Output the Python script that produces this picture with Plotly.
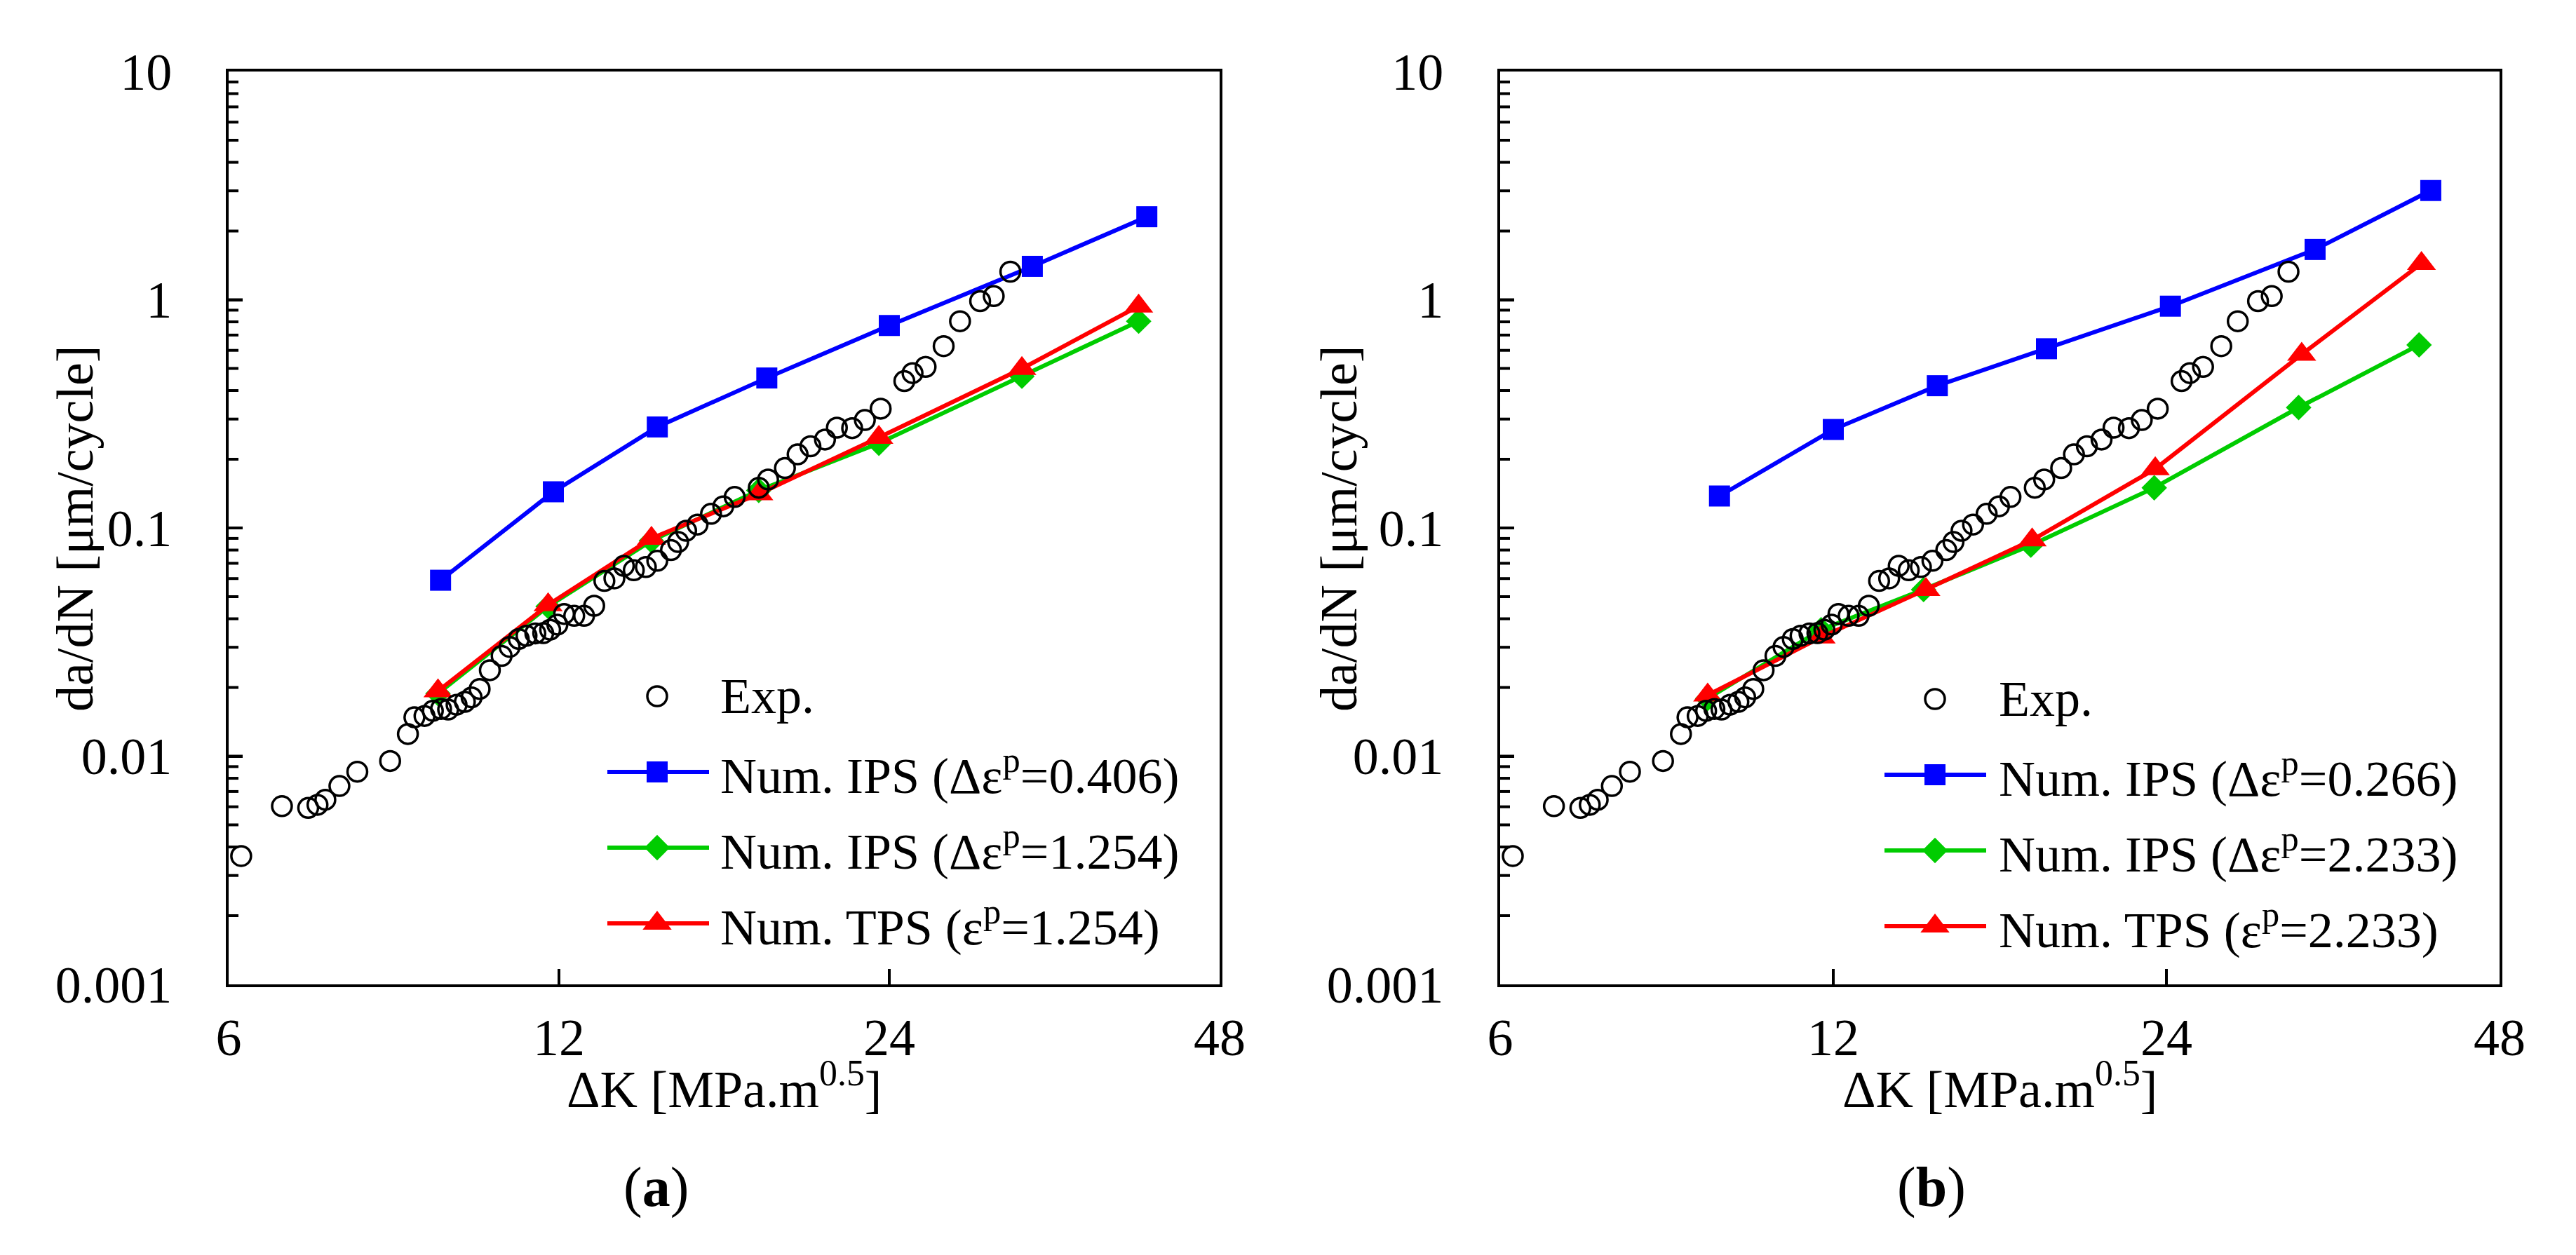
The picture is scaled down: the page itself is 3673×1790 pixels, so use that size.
import plotly.graph_objects as go
import math

# ---------------- data ----------------
K_exp = [6.16, 6.71, 7.09, 7.23, 7.35, 7.57, 7.86, 8.42, 8.74, 8.86, 9.05, 9.21, 9.37, 9.51,
         9.68, 9.85, 9.99, 10.16, 10.38, 10.64, 10.82, 11.03, 11.21, 11.42, 11.61, 11.78, 11.96,
         12.13, 12.39, 12.65, 12.92, 13.2, 13.48, 13.75, 14.04, 14.4, 14.75, 15.18, 15.41, 15.67,
         16.05, 16.51, 16.94, 17.35, 18.25, 18.61, 19.28, 19.8, 20.34, 20.97, 21.5, 22.2, 22.8,
         23.57, 24.77, 25.2, 25.9, 26.9, 27.84, 29.04, 29.88, 30.94]
da_exp = [0.00365, 0.00604, 0.00593, 0.00612, 0.00644, 0.0074, 0.00855, 0.00952, 0.0125, 0.0148,
          0.015, 0.0158, 0.0161, 0.016, 0.0168, 0.0173, 0.0181, 0.0197, 0.0238, 0.0275, 0.0301,
          0.0326, 0.0337, 0.0345, 0.0346, 0.0358, 0.0377, 0.042, 0.0412, 0.0412, 0.0456, 0.0586,
          0.0601, 0.0682, 0.0653, 0.0674, 0.0718, 0.080, 0.0868, 0.0972, 0.1035, 0.1153, 0.1244,
          0.1367, 0.150, 0.163, 0.183, 0.210, 0.228, 0.244, 0.275, 0.2737, 0.297, 0.333, 0.44,
          0.477, 0.508, 0.626, 0.805, 0.986, 1.037, 1.327]

# (a)
K_a_ips1 = [9.36, 11.86, 14.75, 18.56, 24.0, 32.4, 41.2]
da_a_ips1 = [0.059, 0.144, 0.277, 0.454, 0.771, 1.40, 2.31]
K_a_ips2 = [9.31, 11.73, 14.57, 18.25, 23.48, 31.7, 40.5]
da_a_ips2 = [0.0188, 0.0453, 0.0879, 0.146, 0.235, 0.462, 0.805]
K_a_tps = [9.31, 11.73, 14.57, 18.25, 23.48, 31.7, 40.5]
da_a_tps = [0.0193, 0.046, 0.090, 0.141, 0.249, 0.499, 0.937]

# (b)
K_b_ips1 = [9.47, 12.0, 14.9, 18.7, 24.2, 32.7, 41.6]
da_b_ips1 = [0.138, 0.270, 0.420, 0.610, 0.937, 1.66, 3.01]
K_b_ips2 = [9.24, 11.7, 14.48, 18.1, 23.4, 31.6, 40.6]
da_b_ips2 = [0.0179, 0.0358, 0.0537, 0.0840, 0.150, 0.337, 0.634]
K_b_tps = [9.24, 11.7, 14.55, 18.15, 23.45, 31.8, 40.8]
da_b_tps = [0.0185, 0.0332, 0.0537, 0.0885, 0.1816, 0.576, 1.44]

x_ticks = [6, 12, 24, 48]
y_ticks = [0.001, 0.01, 0.1, 1, 10]
y_ticktext = ["0.001", "0.01", "0.1", "1", "10"]
# log-axis minor tick positions (2..9 within each decade)
y_minor_ticks = [m * 10.0 ** e for e in range(-3, 1) for m in range(2, 10)]

labels_a = ["Exp.", "Num. IPS (Δε<sup>p</sup>=0.406)", "Num. IPS (Δε<sup>p</sup>=1.254)",
            "Num. TPS (ε<sup>p</sup>=1.254)"]
labels_b = ["Exp.", "Num. IPS (Δε<sup>p</sup>=0.266)", "Num. IPS (Δε<sup>p</sup>=2.233)",
            "Num. TPS (ε<sup>p</sup>=2.233)"]

# ---------------- layout constants ----------------
W, H = 3673, 1790
FONT = "Liberation Serif"
BLUE, GREEN, RED = "#0000FF", "#00CC00", "#FF0000"
TOP, BOTTOM = 94, 1396
PANELS = {"a": (318, 1731), "b": (2131, 3556)}
X_RANGE = [math.log10(6), math.log10(48)]
Y_RANGE = [-3, 1]

def px_x(v):
    return v / W

def px_y(v):
    return 1 - v / H

# pixel -> axis value helpers (used only to place the legend keys)
def key_K(px, panel):
    left, right = PANELS[panel]
    return 6 * 2 ** (3 * (px - left) / (right - left))

def key_da(py):
    return 10 ** (1 - 4 * (py - TOP) / (BOTTOM - TOP))

def xfrac(v):
    return (math.log10(v) - X_RANGE[0]) / (X_RANGE[1] - X_RANGE[0])

def yfrac(v):
    return (math.log10(v) - Y_RANGE[0]) / (Y_RANGE[1] - Y_RANGE[0])

dom_y = [px_y(BOTTOM), px_y(TOP)]
dom_xa = [px_x(PANELS["a"][0]), px_x(PANELS["a"][1])]
dom_xb = [px_x(PANELS["b"][0]), px_x(PANELS["b"][1])]

fig = go.Figure()

styles = [
    dict(mode="markers", marker=dict(symbol="circle-open", size=28, color="black", line=dict(width=3.5, color="black"))),
    dict(mode="lines+markers", line=dict(color=BLUE, width=6), marker=dict(symbol="square", size=30, color=BLUE)),
    dict(mode="lines+markers", line=dict(color=GREEN, width=6), marker=dict(symbol="diamond", size=28, color=GREEN)),
    dict(mode="lines+markers", line=dict(color=RED, width=6), marker=dict(symbol="triangle-up", size=36, color=RED)),
]

def add_panel(xa, ya, series):
    # series order: exp, ips1, ips2, tps  (exp drawn on top)
    for idx in [2, 3, 1, 0]:
        xs, ys = series[idx]
        fig.add_trace(go.Scatter(x=xs, y=ys, xaxis=xa, yaxis=ya, showlegend=False,
                                 cliponaxis=False, **styles[idx]))

add_panel("x", "y", [(K_exp, da_exp), (K_a_ips1, da_a_ips1), (K_a_ips2, da_a_ips2), (K_a_tps, da_a_tps)])
add_panel("x2", "y2", [(K_exp, da_exp), (K_b_ips1, da_b_ips1), (K_b_ips2, da_b_ips2), (K_b_tps, da_b_tps)])

# ---------------- manual legends (keys drawn in each panel) ----------------
legend_cfg = [
    dict(panel="a", xa="x", ya="y", labels=labels_a, x0=858, xm=929, x1=1003, xt=1017,
         rows=[985, 1093, 1201, 1309]),
    dict(panel="b", xa="x2", ya="y2", labels=labels_b, x0=2679, xm=2751, x1=2824, xt=2840,
         rows=[989, 1097, 1205, 1313]),
]
annotations = []
for cfg in legend_cfg:
    p = cfg["panel"]
    for i, lab in enumerate(cfg["labels"]):
        row = cfg["rows"][i]
        st = styles[i]
        if i > 0:
            fig.add_trace(go.Scatter(x=[key_K(cfg["x0"], p), key_K(cfg["x1"], p)],
                                     y=[key_da(row), key_da(row)], xaxis=cfg["xa"], yaxis=cfg["ya"],
                                     mode="lines", line=st["line"], showlegend=False, cliponaxis=False,
                                     hoverinfo="skip"))
        fig.add_trace(go.Scatter(x=[key_K(cfg["xm"], p)], y=[key_da(row)], xaxis=cfg["xa"], yaxis=cfg["ya"],
                                 mode="markers", marker=st["marker"], showlegend=False, cliponaxis=False,
                                 hoverinfo="skip"))
        annotations.append(dict(x=px_x(cfg["xt"]), y=px_y(row), xref="paper", yref="paper", text=lab,
                                showarrow=False, xanchor="left", yanchor="middle",
                                font=dict(size=72, family=FONT, color="black")))

# axis titles and captions
for xc, yt_x, cap in [(1024, 99, "(<b>a</b>)"), (2843, 1901, "(<b>b</b>)")]:
    annotations.append(dict(x=px_x(xc), y=px_y(1540), xref="paper", yref="paper",
                            text="ΔK [MPa.m<sup>0.5</sup>]", showarrow=False, xanchor="center",
                            yanchor="middle", font=dict(size=74, family=FONT, color="black")))
    annotations.append(dict(x=px_x(yt_x), y=px_y(746), xref="paper", yref="paper",
                            text="da/dN [μm/cycle]", showarrow=False, textangle=-90, xanchor="center",
                            yanchor="middle", font=dict(size=74, family=FONT, color="black")))
    annotations.append(dict(x=px_x(xc - 97), y=px_y(1685), xref="paper", yref="paper",
                            text=cap, showarrow=False, xanchor="center", yanchor="middle",
                            font=dict(size=80, family=FONT, color="black")))

# ---------------- inside tick marks (drawn as axis-domain shapes) ----------------
shapes = []
TICK_W = 4
for xa, ya in [("x", "y"), ("x2", "y2")]:
    for v in x_ticks[1:-1]:
        shapes.append(dict(type="line", xref=f"{xa} domain", yref=f"{ya} domain", x0=xfrac(v), x1=xfrac(v),
                           ysizemode="pixel", yanchor=0, y0=0, y1=22, layer="above",
                           line=dict(color="black", width=TICK_W)))
    for v in y_ticks[1:-1]:
        shapes.append(dict(type="line", xref=f"{xa} domain", yref=f"{ya} domain", y0=yfrac(v), y1=yfrac(v),
                           xsizemode="pixel", xanchor=0, x0=0, x1=20, layer="above",
                           line=dict(color="black", width=TICK_W)))
    for v in y_minor_ticks:
        shapes.append(dict(type="line", xref=f"{xa} domain", yref=f"{ya} domain", y0=yfrac(v), y1=yfrac(v),
                           xsizemode="pixel", xanchor=0, x0=0, x1=14, layer="above",
                           line=dict(color="black", width=TICK_W)))

xaxis_common = dict(type="log", range=X_RANGE, tickmode="array",
                    tickvals=x_ticks, ticktext=[str(v) for v in x_ticks], ticks="inside", ticklen=22,
                    tickwidth=4, tickcolor="black", showline=True, linecolor="black", linewidth=4,
                    mirror=True, showgrid=False, zeroline=False, ticklabelstandoff=8,
                    tickfont=dict(size=74, family=FONT, color="black"))
yaxis_common = dict(type="log", range=Y_RANGE, tickmode="array", tickvals=y_ticks, ticktext=y_ticktext,
                    ticks="inside", ticklen=20, tickwidth=4, tickcolor="black", showline=True,
                    linecolor="black", linewidth=4, mirror=True, showgrid=False, zeroline=False,
                    ticklabelstandoff=62,
                    tickfont=dict(size=74, family=FONT, color="black"))

fig.update_layout(
    width=W, height=H, margin=dict(l=0, r=0, t=0, b=0, autoexpand=False),
    paper_bgcolor="white", plot_bgcolor="white",
    font=dict(family=FONT, color="black"),
    xaxis=dict(domain=dom_xa, anchor="y", **xaxis_common),
    yaxis=dict(domain=dom_y, anchor="x", **yaxis_common),
    xaxis2=dict(domain=dom_xb, anchor="y2", **xaxis_common),
    yaxis2=dict(domain=dom_y, anchor="x2", **yaxis_common),
    annotations=annotations,
    shapes=shapes,
    showlegend=False,
)

fig.write_html("out.html")
